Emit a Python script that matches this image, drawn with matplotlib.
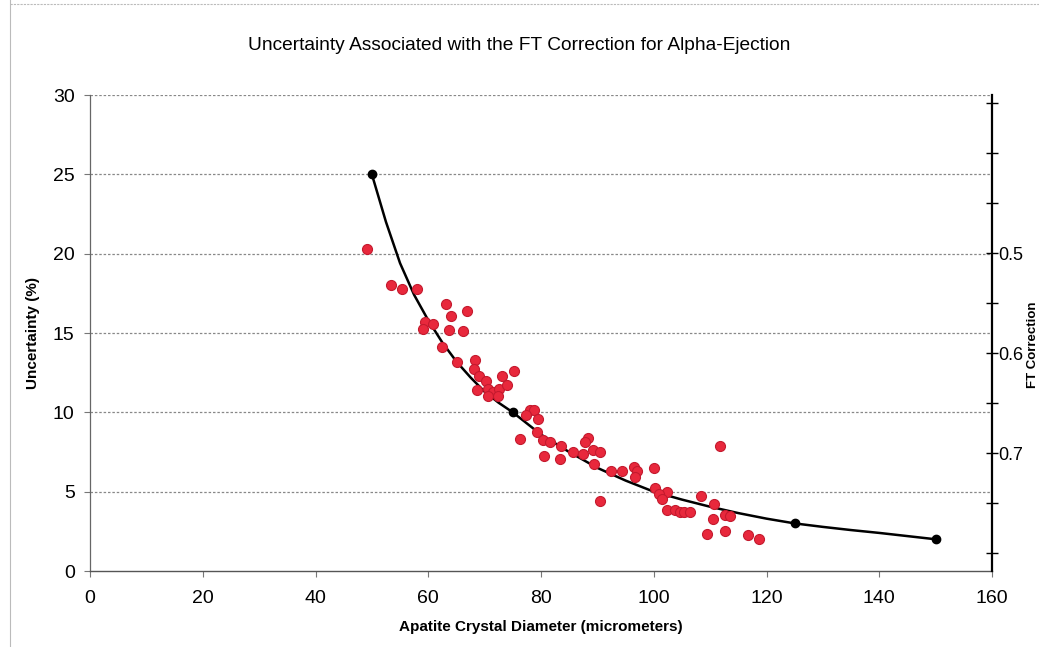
import matplotlib
matplotlib.use("Agg")
import matplotlib.pyplot as plt
from matplotlib.lines import Line2D

plt.rcParams['font.family'] = ['Liberation Sans', 'DejaVu Sans']

title = "Uncertainty Associated with the FT Correction for Alpha-Ejection"
xlabel = "Apatite Crystal Diameter (micrometers)"
ylabel = "Uncertainty (%)"
ylabel2 = "FT Correction"

# Measured apatite grains (red points)
grain_x = [49.2, 53.4, 55.4, 58.0,
           63.2, 64.1, 66.8,
           59.4, 59.0, 60.9, 63.7, 66.2,
           62.5, 65.1, 68.3, 68.2, 69.0, 70.2, 73.1, 75.2,
           68.7, 70.6, 71.4, 72.5, 74.0, 70.6, 72.4,
           78.0, 78.8, 77.4, 79.4, 79.3, 76.3, 80.3, 81.6, 83.5,
           88.4, 87.8, 85.6, 87.4, 89.3, 90.4, 80.5, 83.4, 89.4, 92.5,
           94.4, 96.5, 97.0, 96.6, 100.0, 90.4, 100.3, 102.3, 100.9, 101.5,
           111.7, 108.4, 110.7, 102.4, 103.7, 104.6, 105.4, 106.4, 110.5,
           112.6, 113.6, 109.4, 112.7, 116.7, 118.6]
grain_y = [20.3, 18.0, 17.8, 17.8,
           16.8, 16.1, 16.4,
           15.7, 15.25, 15.55, 15.2, 15.1,
           14.1, 13.15, 13.3, 12.7, 12.3, 12.0, 12.3, 12.6,
           11.4, 11.45, 11.3, 11.5, 11.7, 11.0, 11.05,
           10.15, 10.15, 9.85, 9.6, 8.75, 8.3, 8.25, 8.15, 7.85,
           8.4, 8.15, 7.5, 7.4, 7.6, 7.5, 7.25, 7.05, 6.75, 6.3,
           6.3, 6.55, 6.3, 5.95, 6.5, 4.4, 5.2, 5.0, 4.85, 4.55,
           7.9, 4.75, 4.2, 3.85, 3.85, 3.75, 3.7, 3.7, 3.3,
           3.55, 3.45, 2.35, 2.5, 2.25, 2.0]

# Uncertainty curve (black line)
curve_x = [50, 52.5, 55, 57.5, 60, 62.5, 65, 67.5, 70, 72.5, 75, 80, 85, 90, 95,
           100, 105, 110, 115, 120, 125, 130, 135, 140, 145, 150]
curve_y = [25.0, 22.0, 19.4, 17.4, 15.8, 14.4, 13.2, 12.2, 11.3, 10.6, 10.0, 8.6, 7.5, 6.5, 5.7,
           5.0, 4.5, 4.05, 3.65, 3.3, 3.0, 2.78, 2.58, 2.4, 2.2, 2.0]
# Black markers on the curve
node_x = [50, 75, 125, 150]
node_y = [25, 10, 3, 2]

x_ticks = [0, 20, 40, 60, 80, 100, 120, 140, 160]
y_ticks = [0, 5, 10, 15, 20, 25, 30]
ft_ticks = [0.35, 0.40, 0.45, 0.50, 0.55, 0.60, 0.65, 0.70, 0.75, 0.80]
ft_labels = ["", "", "", "0.5", "", "0.6", "", "0.7", "", ""]

fig = plt.figure(figsize=(10.39, 6.47), dpi=100)
ax = fig.add_axes([90/1039, 1-571/647, (992-90)/1039, (571-95)/647])

ax.set_xlim(0, 160)
ax.set_ylim(0, 30)
ax.set_xticks(x_ticks)
ax.set_yticks(y_ticks)
ax.tick_params(axis='both', labelsize=14, color='#777777', length=4, width=0.8, direction='out')
ax.tick_params(axis='x', pad=10)
ax.tick_params(axis='y', pad=7)

for yv in y_ticks[1:]:
    ax.axhline(yv, color='#888888', lw=0.9, ls=(0, (2, 1.5)), zorder=1)

for s in ['top', 'right']:
    ax.spines[s].set_visible(False)
ax.spines['left'].set_color('#666666')
ax.spines['left'].set_linewidth(0.9)
ax.spines['bottom'].set_color('#555555')
ax.spines['bottom'].set_linewidth(1.0)

ax.plot(curve_x, curve_y, color='black', lw=1.8, zorder=3)
ax.scatter(grain_x, grain_y, s=52, facecolor='#e8283c', edgecolor='#c41a2e', lw=0.8, zorder=4)
ax.plot(node_x, node_y, 'o', color='black', ms=6, zorder=5)

fig.text(519/1039, 1-46/647, title, fontsize=13.8, ha='center', va='center')
ax.set_xlabel(xlabel, fontsize=11, fontweight='bold', labelpad=9)
ax.set_ylabel(ylabel, fontsize=11, fontweight='bold', labelpad=9)

# Right axis (FT Correction), inverted
ax2 = ax.twinx()
ax2.set_ylim(0.818, 0.342)
ax2.set_yticks(ft_ticks)
ax2.set_yticklabels(ft_labels)
ax2.tick_params(axis='y', direction='inout', length=9, width=1.0, color='black', labelsize=13, pad=0)
for s in ['top', 'left', 'bottom']:
    ax2.spines[s].set_visible(False)
ax2.spines['right'].set_color('black')
ax2.spines['right'].set_linewidth(1.6)

fig.text(1038.5/1039, 1-345/647, ylabel2, rotation=90, ha='right', va='center',
         fontsize=9.5, fontweight='bold')

# scan frame lines
fig.add_artist(Line2D([10/1039, 10/1039], [0, 1], color='#bbbbbb', lw=0.8))
fig.add_artist(Line2D([10/1039, 1], [1-4/647, 1-4/647], color='#bbbbbb', lw=0.8, ls=(0, (2, 1))))

fig.savefig("out.png", dpi=100)
